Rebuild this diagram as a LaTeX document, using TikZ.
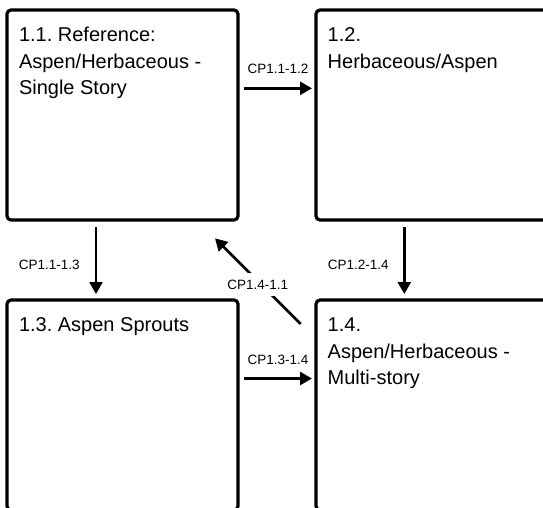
\documentclass[tikz,border=0pt]{standalone}
\usepackage{fontspec}
\setmainfont{Liberation Sans}
\usetikzlibrary{arrows.meta,calc}
\begin{document}
\begin{tikzpicture}[x=1pt,y=-1pt,
  stagebox/.style={draw=black, line width=3.2pt, rounded corners=4pt,
    minimum width=231pt, minimum height=210pt, inner sep=0pt, outer sep=0pt},
  % multi-line nodes take their base from the last line
  stagetext/.style={anchor=base west, align=left, inner sep=0pt,
    font=\fontsize{20}{26.5}\selectfont\frenchspacing},
  arr/.style={line width=2.6pt, -{Triangle[length=12pt,width=13pt]}},
  cplabel/.style={font=\fontsize{13.5}{16}\selectfont, inner sep=0pt, anchor=base}]
\clip (0,0) rectangle (543,507);

% the four stage boxes
\node[stagebox] (b11) at (122.5,115) {};
\node[stagebox] (b12) at (431.5,115) {};
\node[stagebox] (b13) at (122.5,405) {};
\node[stagebox] (b14) at (431.5,405) {};

% stage titles (first baseline 31.7pt below the box top)
\node[stagetext] (t11) at ($(b11.north west)+(11.8,84.7)$)
  {1.1. Reference:\\Aspen/Herbaceous -\\Single Story};
\node[stagetext] (t12) at ($(b12.north west)+(11.5,58.2)$)
  {1.2.\\Herbaceous/Aspen};
\node[stagetext] (t13) at ($(b13.north west)+(11.8,31.7)$)
  {1.3. Aspen Sprouts};
\node[stagetext] (t14) at ($(b14.north west)+(11.5,84.7)$)
  {1.4.\\Aspen/Herbaceous -\\Multi-story};

% transition pathways
\draw[arr] ($(b11.north east)+(6,78.3)$) --
  node[cplabel, yshift=14.5pt] (l12) {CP1.1-1.2}
  ($(b12.north west)+(-4,78.3)$);
\draw[arr] ($(b13.north east)+(6,78.5)$) --
  node[cplabel, yshift=14.5pt] (l34) {CP1.3-1.4}
  ($(b14.north west)+(-4,78.5)$);
\draw[arr] ($(b11.south west)+(89,7.3)$) --
  node[cplabel, xshift=-46.8pt, yshift=-9.3pt] (l13) {CP1.1-1.3}
  ($(b13.north west)+(89,-6)$);
\draw[arr] ($(b12.south west)+(88.3,7.3)$) --
  node[cplabel, xshift=-46pt, yshift=-9.3pt] (l24) {CP1.2-1.4}
  ($(b14.north west)+(88.3,-6)$);
\draw[arr] ($(b14.north west)+(-15.3,24)$) --
  node[cplabel, anchor=center, fill=white, inner sep=6.5pt, yshift=-3.5pt] (l41) {CP1.4-1.1}
  ($(b11.south east)+(-23,18.3)$);
\end{tikzpicture}
\end{document}
